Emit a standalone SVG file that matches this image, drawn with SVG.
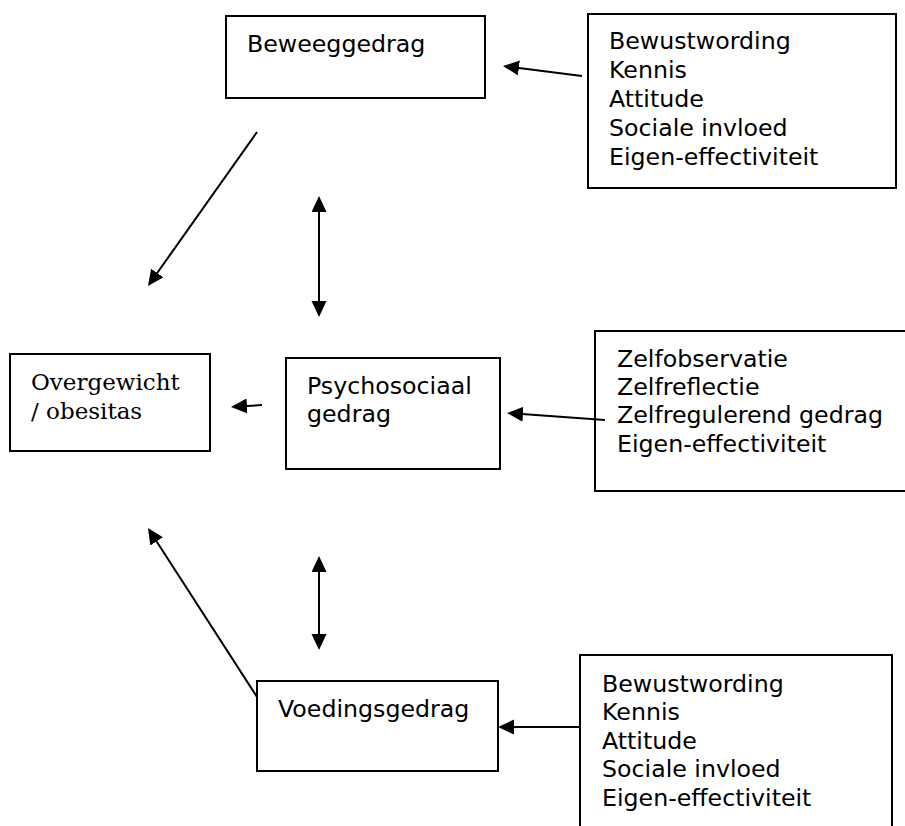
<svg xmlns="http://www.w3.org/2000/svg" width="905" height="826" viewBox="0 0 905 826">
<style>
.box{fill:#fff;stroke:#000;stroke-width:2}
.t{font-family:"DejaVu Sans",Verdana,sans-serif;font-size:23.7px;fill:#000}
.s{font-family:"DejaVu Serif",Georgia,serif;font-size:23px;fill:#000}
.c{stroke:#000;stroke-width:2;fill:none;marker-end:url(#ah)}
.d{marker-start:url(#ah)}
</style>
<defs>
<marker id="ah" markerUnits="userSpaceOnUse" markerWidth="16" markerHeight="16" viewBox="0 0 16 16" refX="8" refY="7.5" orient="auto-start-reverse">
<path d="M0,0 L16,7.5 L0,15 z" fill="#000"/>
</marker>
</defs>
<rect width="905" height="826" fill="#fff"/>
<g id="beweeggedrag">
<rect class="box" x="226" y="16" width="259" height="82"/>
<text class="t" x="247" y="52">Beweeggedrag</text>
</g>
<g id="determinanten-bewegen">
<rect class="box" x="588" y="14" width="308" height="174"/>
<text class="t" x="609" y="49">Bewustwording</text>
<text class="t" x="609" y="78">Kennis</text>
<text class="t" x="609" y="107">Attitude</text>
<text class="t" x="609" y="136">Sociale invloed</text>
<text class="t" x="609" y="165">Eigen-effectiviteit</text>
</g>
<g id="overgewicht">
<rect class="box" x="10" y="354" width="200" height="97"/>
<text class="s" x="31" y="390">Overgewicht</text>
<text class="s" x="31" y="419">/ obesitas</text>
</g>
<g id="psychosociaal">
<rect class="box" x="286" y="358" width="214" height="111"/>
<text class="t" x="307" y="394">Psychosociaal</text>
<text class="t" x="307" y="422">gedrag</text>
</g>
<g id="determinanten-psychosociaal">
<rect class="box" x="595" y="331" width="320" height="160"/>
<text class="t" x="617" y="367">Zelfobservatie</text>
<text class="t" x="617" y="395">Zelfreflectie</text>
<text class="t" x="617" y="423">Zelfregulerend gedrag</text>
<text class="t" x="617" y="452">Eigen-effectiviteit</text>
</g>
<g id="voedingsgedrag">
<rect class="box" x="257" y="681" width="241" height="90"/>
<text class="t" x="278" y="717">Voedingsgedrag</text>
</g>
<g id="determinanten-voeding">
<rect class="box" x="580" y="655" width="312" height="200"/>
<text class="t" x="602" y="692">Bewustwording</text>
<text class="t" x="602" y="720">Kennis</text>
<text class="t" x="602" y="749">Attitude</text>
<text class="t" x="602" y="777">Sociale invloed</text>
<text class="t" x="602" y="806">Eigen-effectiviteit</text>
</g>
<g id="connectors">
<line class="c" x1="582" y1="76" x2="511" y2="67"/>
<line class="c" x1="257" y1="132" x2="152.6" y2="279.5"/>
<line class="c d" x1="319" y1="204" x2="319" y2="309"/>
<line class="c" x1="262" y1="405" x2="239" y2="406.5"/>
<line class="c" x1="605" y1="420" x2="515" y2="413.6"/>
<line class="c d" x1="319" y1="564" x2="319" y2="642"/>
<line class="c" x1="257" y1="697" x2="152.3" y2="534.7"/>
<line class="c" x1="579" y1="727" x2="506" y2="727"/>
</g>
</svg>
